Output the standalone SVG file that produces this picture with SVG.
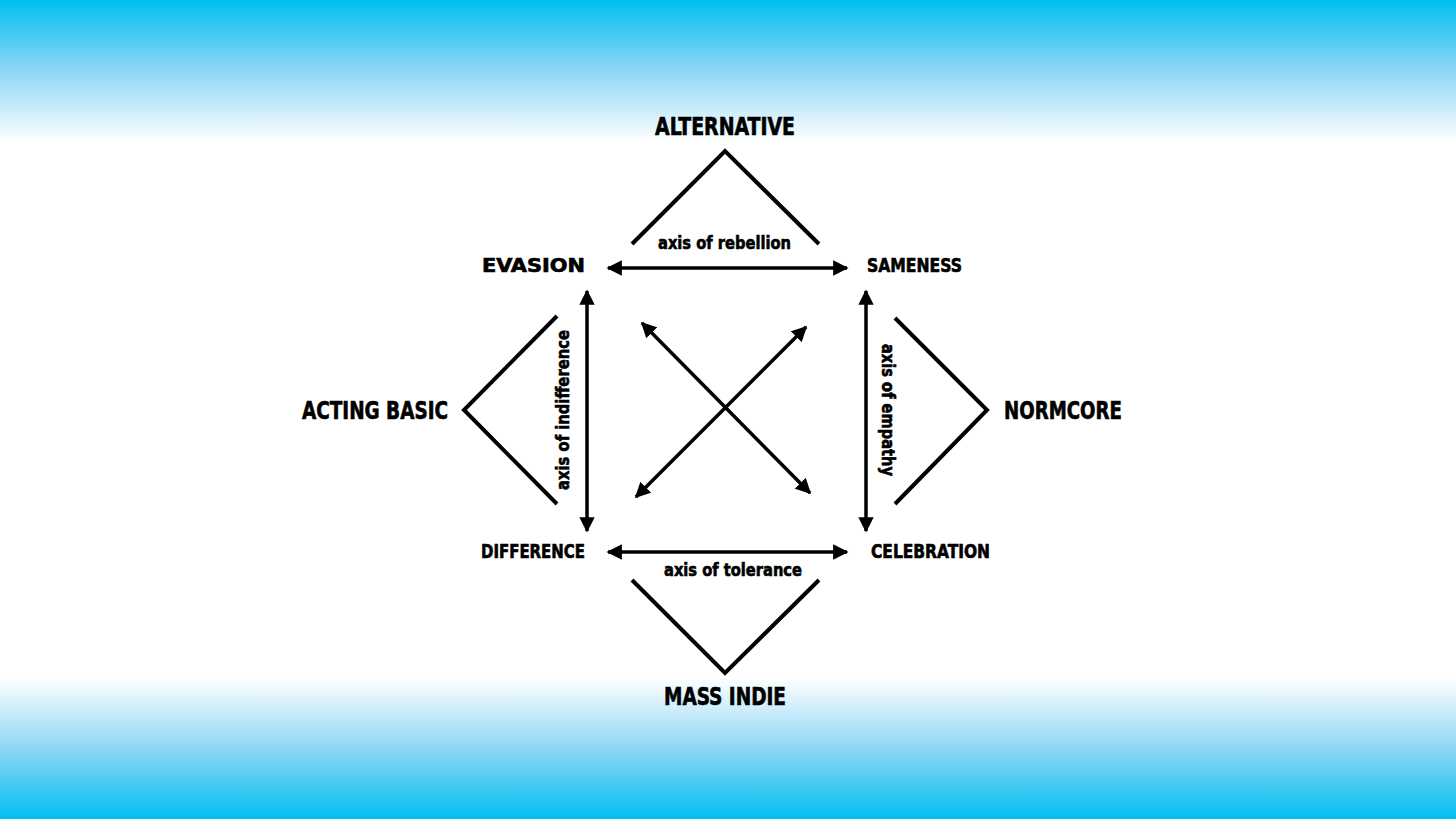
<svg xmlns="http://www.w3.org/2000/svg" width="1456" height="819" viewBox="0 0 1456 819">
<defs>
<linearGradient id="gt" x1="0" y1="0" x2="0" y2="1">
<stop offset="0" stop-color="#00bff0"/>
<stop offset="0.5" stop-color="#8fd6f6"/>
<stop offset="1" stop-color="#ffffff"/>
</linearGradient>
<linearGradient id="gb" x1="0" y1="0" x2="0" y2="1">
<stop offset="0" stop-color="#ffffff"/>
<stop offset="0.5" stop-color="#8fd6f6"/>
<stop offset="1" stop-color="#00bff0"/>
</linearGradient>
<marker id="ah" viewBox="0 0 10 10" refX="9" refY="5" markerWidth="4.4" markerHeight="4.4" orient="auto-start-reverse" markerUnits="strokeWidth">
<path d="M0,0 L10,5 L0,10 Z" fill="#000"/>
</marker>
<style>
.lbl{font-family:"DejaVu Sans Condensed","DejaVu Sans",sans-serif;font-weight:bold;fill:#000;stroke:#000;stroke-width:0.6;font-stretch:condensed}
.big{font-size:24px}
.mid{font-size:19px}
.ax{font-size:18px}
.ln{stroke:#000;stroke-width:4;fill:none}
.ar{stroke:#000;stroke-width:3.5;fill:none;marker-start:url(#ah);marker-end:url(#ah)}
</style>
</defs>
<rect width="1456" height="819" fill="#fff"/>
<rect x="0" y="0" width="1456" height="142" fill="url(#gt)"/>
<rect x="0" y="678" width="1456" height="141" fill="url(#gb)"/>

<g id="connectors">
<path class="ar" d="M608,268 L847,268"/>
<path class="ar" d="M608,552 L847,552"/>
<path class="ar" d="M587,291 L587,531"/>
<path class="ar" d="M866,291 L866,531"/>
<path class="ar" d="M642,323 L810,493"/>
<path class="ar" d="M806,327 L636,497"/>
</g>

<g id="alternative">
<path class="ln" d="M632,244 L725,151 L819,244"/>
<text class="lbl big" x="725" y="135" text-anchor="middle" textLength="140" lengthAdjust="spacingAndGlyphs">ALTERNATIVE</text>
</g>
<g id="acting-basic">
<path class="ln" d="M557,316 L464,410 L557,504"/>
<text class="lbl big" x="302" y="419" textLength="146" lengthAdjust="spacingAndGlyphs">ACTING BASIC</text>
</g>
<g id="normcore">
<path class="ln" d="M895,318 L987,410 L895,504"/>
<text class="lbl big" x="1004" y="419" textLength="118" lengthAdjust="spacingAndGlyphs">NORMCORE</text>
</g>
<g id="mass-indie">
<path class="ln" d="M632,580 L725,673 L819,580"/>
<text class="lbl big" x="725" y="705" text-anchor="middle" textLength="122" lengthAdjust="spacingAndGlyphs">MASS INDIE</text>
</g>

<g id="evasion"><text class="lbl mid" x="482" y="272" textLength="103" lengthAdjust="spacingAndGlyphs">EVASION</text></g>
<g id="sameness"><text class="lbl mid" x="867" y="272" textLength="95" lengthAdjust="spacingAndGlyphs">SAMENESS</text></g>
<g id="difference"><text class="lbl mid" x="481" y="558" textLength="104" lengthAdjust="spacingAndGlyphs">DIFFERENCE</text></g>
<g id="celebration"><text class="lbl mid" x="871" y="558" textLength="119" lengthAdjust="spacingAndGlyphs">CELEBRATION</text></g>

<g id="axis-labels">
<text class="lbl ax" x="724.5" y="249" text-anchor="middle" textLength="133" lengthAdjust="spacingAndGlyphs">axis of rebellion</text>
<text class="lbl ax" x="733" y="576" text-anchor="middle" textLength="138" lengthAdjust="spacingAndGlyphs">axis of tolerance</text>
<text class="lbl ax" transform="translate(569,410) rotate(-90)" x="0" y="0" text-anchor="middle" textLength="160" lengthAdjust="spacingAndGlyphs">axis of indifference</text>
<text class="lbl ax" transform="translate(882,410) rotate(90)" x="0" y="0" text-anchor="middle" textLength="132" lengthAdjust="spacingAndGlyphs">axis of empathy</text>
</g>
</svg>
